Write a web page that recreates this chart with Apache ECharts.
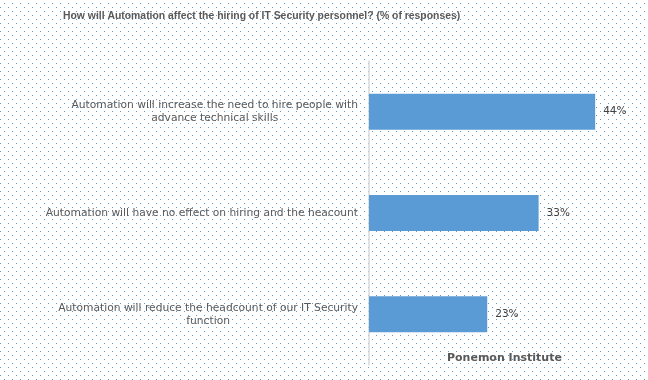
<!DOCTYPE html>
<html><head><meta charset="utf-8">
<script src="https://cdn.jsdelivr.net/npm/echarts@6/dist/echarts.min.js"></script>
<style>html,body{margin:0;padding:0;background:#fff}#c{width:648px;height:380px}</style>
</head><body><div id="c"></div>
<script>
const categories = [
  "Automation will increase the need to hire people with\nadvance technical skills",
  "Automation will have no effect on hiring and the heacount",
  "Automation will reduce the headcount of our IT Security\nfunction"
];
const values = [44, 33, 23];
const titleText = "How will Automation affect the hiring of IT Security personnel? (% of responses)";
const sourceText = "Ponemon Institute";

const tile = document.createElement('canvas');
tile.width = 8; tile.height = 8;
const tctx = tile.getContext('2d');
tctx.fillStyle = '#fff'; tctx.fillRect(0,0,8,8);
tctx.fillStyle = '#5b9bd5';
tctx.fillRect(4,3,1,1);
tctx.fillRect(0,7,1,1);

const font = '"DejaVu Sans", Tahoma, sans-serif';
const tfont = '"Liberation Sans", Arial, sans-serif';
const chart = echarts.init(document.getElementById('c'), null, {renderer:'canvas'});
chart.setOption({
  backgroundColor: {image: tile, repeat: 'repeat'},
  animation: false,
  title: [
    {text: titleText, left: 63, top: 11, padding: 0,
     textStyle: {fontFamily: tfont, fontSize: 10.4, fontWeight: 'bold', color: '#595959'}},
    {text: sourceText, left: 447, top: 353, padding: 0,
     textStyle: {fontFamily: font, fontSize: 11, fontWeight: 'bold', color: '#595959'}}
  ],
  grid: {left: 369, right: 22, top: 61, bottom: 15},
  xAxis: {type: 'value', min: 0, max: 50, show: false},
  yAxis: {
    type: 'category', inverse: true, data: categories,
    axisLine: {show: true, lineStyle: {color: '#d9d9d9', width: 1.5}},
    axisTick: {show: false},
    axisLabel: {
      margin: 11, align: 'right', fontFamily: font, fontSize: 10.7, color: '#595959',
      lineHeight: 13,
      formatter: v => v.split('\n').map(s => '{c|' + s + '}').join('\n'),
      rich: {c: {align: 'center', fontFamily: font, fontSize: 10.7, color: '#595959', lineHeight: 13}}
    }
  },
  series: [{
    type: 'bar', data: values, barWidth: 36,
    itemStyle: {color: '#5b9bd5'},
    label: {show: true, position: 'right', distance: 8, formatter: '{c}%',
      fontFamily: font, fontSize: 10.5, color: '#404040'}
  }]
});
</script></body></html>
